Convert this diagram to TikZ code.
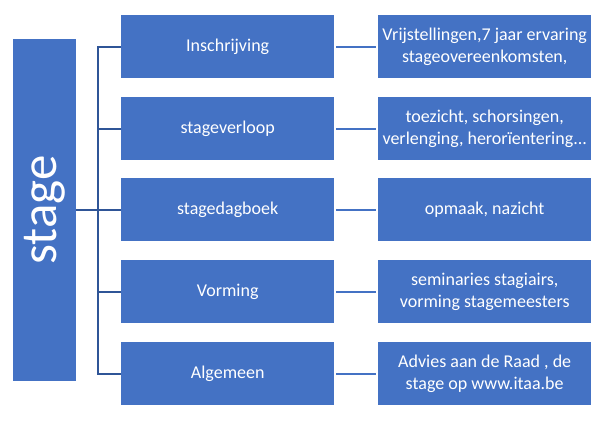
\documentclass[tikz,border=0pt]{standalone}
\usepackage{fontspec}
\setmainfont{Carlito}
\definecolor{boxblue}{HTML}{4472C4}
\definecolor{linedark}{HTML}{2F5597}
\begin{document}
\begin{tikzpicture}[x=1pt,y=-1pt,
  box/.style={fill=boxblue, draw=none, minimum width=213pt, minimum height=63pt,
    inner sep=0pt, text=white, font=\fontsize{18}{22}\selectfont, align=center,
    anchor=north west},
  stagebox/.style={fill=boxblue, draw=none, minimum width=342pt, minimum height=63pt,
    inner sep=0pt, text=white, font=\fontsize{51}{51}\selectfont, rotate=90},
  bracket/.style={draw=linedark, line width=2pt},
  conn/.style={draw=boxblue, line width=2pt, shorten <=2pt, shorten >=2pt}]
\useasboundingbox (0,0) rectangle (605,434);
\node[stagebox] (stage) at (44.5,210) {stage};
\node[box] (m1) at (121,15)  {Inschrijving};
\node[box] (m2) at (121,97)  {stageverloop};
\node[box] (m3) at (121,178) {stagedagboek};
\node[box] (m4) at (121,260) {Vorming};
\node[box] (m5) at (121,342) {Algemeen};
\node[box] (r1) at (378,15)  {Vrijstellingen,7 jaar ervaring\\stageovereenkomsten,};
\node[box] (r2) at (378,97)  {toezicht, schorsingen,\\verlenging, herorïentering...};
\node[box] (r3) at (378,178) {opmaak, nazicht};
\node[box] (r4) at (378,260) {seminaries stagiairs,\\vorming stagemeesters};
\node[box] (r5) at (378,342) {Advies aan de Raad , de\\stage op www.itaa.be};
\coordinate (bus) at (98,0);
\draw[bracket] (m1.west) -| (bus |- m5.west) -- (m5.west);
\foreach \i in {2,3,4} {\draw[bracket] (m\i.west) -- (m\i.west -| bus);}
\draw[bracket] (stage.south) -- (stage.south -| bus);
\foreach \i in {1,...,5} {\draw[conn] (m\i.east) -- (r\i.west);}
\end{tikzpicture}
\end{document}
